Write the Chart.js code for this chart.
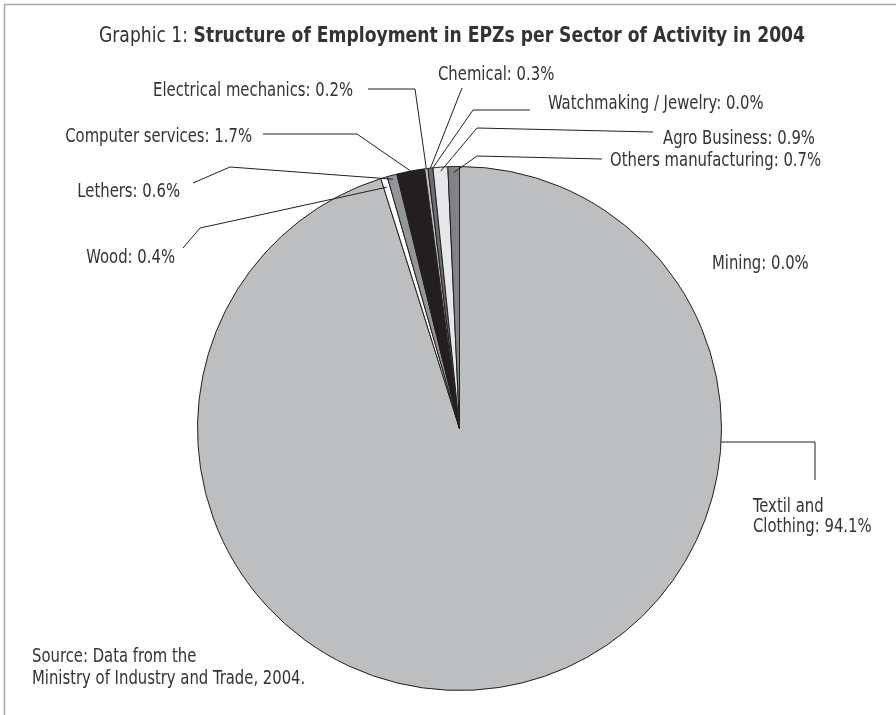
<!DOCTYPE html>
<html>
<head>
<meta charset="utf-8">
<script src="https://cdn.jsdelivr.net/npm/chart.js@4"></script>
<style>
  html, body { margin: 0; padding: 0; background: #fff; }
  #wrap { width: 896px; height: 715px; position: relative; }
</style>
</head>
<body>
<div id="wrap"><canvas id="epzChart" width="896" height="715"></canvas></div>
<script>
// Slices clockwise from 12 o'clock
const sectors = ['Mining', 'Textil and Clothing', 'Wood', 'Lethers', 'Computer services',
  'Electrical mechanics', 'Chemical', 'Watchmaking / Jewelry', 'Agro Business', 'Others manufacturing'];
const shares = [0.0, 94.1, 0.4, 0.6, 1.7, 0.2, 0.3, 0.0, 0.9, 0.7];
const sliceColors = ['#bcbec0', '#bcbec0', '#ffffff', '#939598', '#231f20',
  '#bcbec0', '#6d6e71', '#58595b', '#e6e7e8', '#808285'];

const titleLead = 'Graphic 1: ';
const titleMain = 'Structure of Employment in EPZs per Sector of Activity in 2004';
const sourceLines = ['Source: Data from the', 'Ministry of Industry and Trade, 2004.'];

// label placement: text anchor, alignment, leader path (last point goes to the slice)
const labelLayout = {
  'Mining':                { x: 712, y: 269, align: 'left', path: null },
  'Textil and Clothing':   { x: 753, y: 512, align: 'left', wrap: 2, rimY: 442, path: [[815, 442], [815, 480]] },
  'Wood':                  { x: 175, y: 263, align: 'right', inset: 10, path: [[183, 248], [200, 228]] },
  'Lethers':               { x: 180, y: 197, align: 'right', inset: 4, path: [[193, 183], [230, 167]] },
  'Computer services':     { x: 252, y: 142, align: 'right', inset: 0, path: [[263, 134], [357, 134]] },
  'Electrical mechanics':  { x: 353, y: 96, align: 'right', inset: 0, path: [[368, 89], [415, 89]] },
  'Chemical':              { x: 438, y: 80, align: 'left', inset: 0, path: [[462, 88]] },
  'Watchmaking / Jewelry': { x: 548, y: 109, align: 'left', inset: 0, path: [[530, 110], [473, 110]] },
  'Agro Business':         { x: 663, y: 144, align: 'left', inset: 4, path: [[653, 132], [477, 128]] },
  'Others manufacturing':  { x: 610, y: 166, align: 'left', inset: 6, path: [[602, 159], [477, 156]] }
};

const FONT = '"Liberation Sans Narrow", "DejaVu Sans Condensed", "Open Sans", sans-serif';
const TEXT_COLOR = '#333333';
const LINE_COLOR = '#231f20';

function drawText(ctx, str, x, y, align, opts) {
  const o = opts || {};
  const size = o.size || 20;
  const sx = o.sx || 1;
  ctx.save();
  ctx.font = (o.weight || 'normal') + ' ' + size + 'px ' + FONT;
  const w = ctx.measureText(str).width * sx;
  const x0 = align === 'right' ? x - w : align === 'center' ? x - w / 2 : x;
  ctx.translate(x0, y);
  ctx.scale(sx, 1);
  ctx.textAlign = 'left';
  ctx.textBaseline = 'alphabetic';
  ctx.fillStyle = TEXT_COLOR;
  ctx.fillText(str, 0, 0);
  ctx.restore();
  return w;
}

const annotations = {
  id: 'annotations',
  beforeDraw(chart) {
    const ctx = chart.ctx;
    ctx.save();
    ctx.fillStyle = '#ffffff';
    ctx.fillRect(0, 0, chart.width, chart.height);
    // frame
    ctx.strokeStyle = '#a7a9ac';
    ctx.lineWidth = 1.5;
    ctx.beginPath();
    ctx.moveTo(896, 4.5);
    ctx.lineTo(4.5, 4.5);
    ctx.lineTo(4.5, 715);
    ctx.stroke();
    ctx.restore();
  },
  afterDraw(chart) {
    const ctx = chart.ctx;
    ctx.save();
    ctx.font = 'normal 20px ' + FONT;
    const sx = 200 / ctx.measureText('Electrical mechanics: 0.2%').width;

    // title, fitted to the reference width
    ctx.font = 'normal 21px ' + FONT;
    const m1 = ctx.measureText(titleLead).width;
    ctx.font = 'bold 21px ' + FONT;
    const m2 = ctx.measureText(titleMain).width;
    const tsx = 706 / (m1 + m2);
    const tx = 452 - 353;
    drawText(ctx, titleLead, tx, 42, 'left', { size: 21, sx: tsx });
    drawText(ctx, titleMain, tx + m1 * tsx, 42, 'left', { size: 21, sx: tsx, weight: 'bold' });

    // labels and leaders
    const meta = chart.getDatasetMeta(0);
    ctx.strokeStyle = LINE_COLOR;
    ctx.lineWidth = 1;
    sectors.forEach((name, i) => {
      const lay = labelLayout[name];
      const arc = meta.data[i];
      const text = name + ': ' + shares[i].toFixed(1) + '%';
      if (lay.wrap) {
        const words = text.split(' ');
        drawText(ctx, words.slice(0, lay.wrap).join(' '), lay.x, lay.y, lay.align, { sx });
        drawText(ctx, words.slice(lay.wrap).join(' '), lay.x, lay.y + 20, lay.align, { sx });
      } else {
        drawText(ctx, text, lay.x, lay.y, lay.align, { sx });
      }
      if (!lay.path) return;
      let end;
      if (lay.rimY !== undefined) {
        const dy = lay.rimY - arc.y;
        end = [arc.x + Math.sqrt(arc.outerRadius * arc.outerRadius - dy * dy), lay.rimY];
      } else {
        const mid = (arc.startAngle + arc.endAngle) / 2;
        const r = arc.outerRadius - lay.inset;
        end = [arc.x + Math.cos(mid) * r, arc.y + Math.sin(mid) * r];
      }
      const pts = lay.rimY !== undefined ? [end].concat(lay.path) : lay.path.concat([end]);
      ctx.beginPath();
      ctx.moveTo(pts[0][0], pts[0][1]);
      for (let k = 1; k < pts.length; k++) ctx.lineTo(pts[k][0], pts[k][1]);
      ctx.stroke();
    });

    // source note
    drawText(ctx, sourceLines[0], 32, 662, 'left', { sx });
    drawText(ctx, sourceLines[1], 32, 684, 'left', { sx });
    ctx.restore();
  }
};

new Chart(document.getElementById('epzChart'), {
  type: 'pie',
  data: {
    labels: sectors,
    datasets: [{
      data: shares,
      backgroundColor: sliceColors,
      borderColor: LINE_COLOR,
      borderWidth: 1
    }]
  },
  options: {
    responsive: false,
    animation: false,
    layout: { padding: { left: 197, right: 174, top: 166, bottom: 24 } },
    plugins: {
      legend: { display: false },
      tooltip: { enabled: false },
      title: { display: false }
    }
  },
  plugins: [annotations]
});
</script>
</body>
</html>
